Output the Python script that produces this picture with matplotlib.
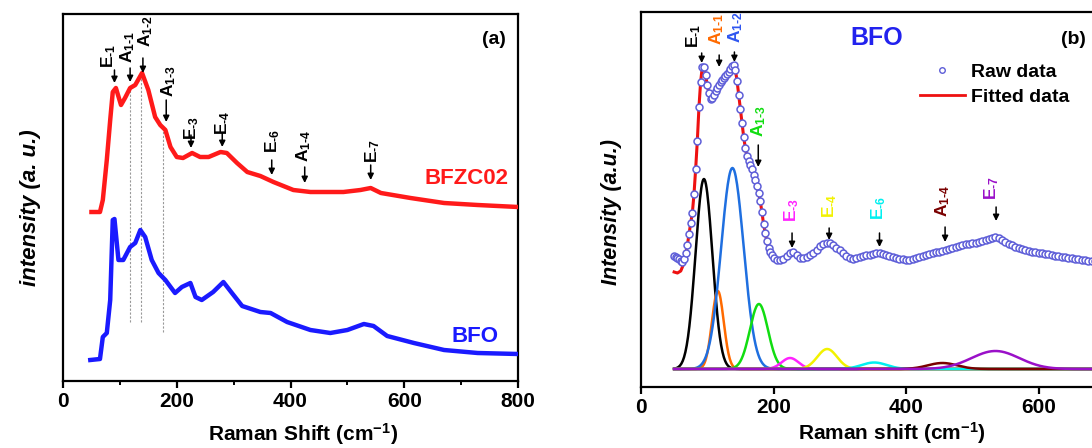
import numpy as np
import matplotlib
matplotlib.use('Agg')
import matplotlib.pyplot as plt
from matplotlib.lines import Line2D

plt.rcParams['font.family'] = ['Liberation Sans', 'DejaVu Sans']
plt.rcParams['font.weight'] = 'bold'
plt.rcParams['axes.labelweight'] = 'bold'
plt.rcParams['mathtext.fontset'] = 'custom'
plt.rcParams['mathtext.rm'] = 'Liberation Sans:bold'
plt.rcParams['mathtext.bf'] = 'Liberation Sans:bold'
plt.rcParams['mathtext.it'] = 'Liberation Sans:bold:italic'
plt.rcParams['mathtext.default'] = 'rm'

# ---- panel (a): Raman spectra (arbitrary units) ----
bfzc_x = [50, 65, 70, 77, 83, 87.5, 93, 102, 109, 118, 127, 139, 150, 162, 171, 180,
          189, 200, 211, 227, 241, 256, 277, 288, 306, 324, 347, 370, 405, 435, 493,
          523, 541, 559, 611, 670, 729, 800]
bfzc_y = [169, 169, 181, 221, 261, 289, 293, 276, 283, 293, 296, 308, 291, 264, 256, 251,
          234, 224, 223, 228, 224, 224, 229, 228, 218, 209, 205, 199, 191, 189, 189,
          191, 193, 188, 183, 178, 176, 174]

bfo_x = [48, 65, 70, 77, 83, 87.5, 90.5, 97.5, 106, 118, 127, 136, 144.5, 156, 168, 180,
         197, 209, 224, 233, 244, 264, 282, 297, 315, 347, 365, 394, 435, 470, 500, 529,
         546, 570, 617, 670, 729, 800]
bfo_y = [21, 22, 44, 48, 81, 161, 162, 121, 121, 134, 138, 151, 144, 121, 108, 101,
         88, 94, 98, 84, 81, 89, 99, 88, 75, 69, 68, 59, 51, 48, 51, 57,
         55, 45, 38, 31, 28, 27]

guide_x = [118, 137, 176]
guide_top = [293, 307, 254]
guide_bottom = [59, 59, 49]

modes = ['E$_{\\text{-}1}$', 'A$_{1\\text{-}1}$', 'A$_{1\\text{-}2}$', 'A$_{1\\text{-}3}$',
         'E$_{\\text{-}3}$', 'E$_{\\text{-}4}$', 'E$_{\\text{-}6}$', 'A$_{1\\text{-}4}$',
         'E$_{\\text{-}7}$']
a_arrow_x = [90.5, 118, 140.5, 181.5, 225, 280, 367, 425, 541]
a_arrow_tip = [298, 299, 308, 259, 233, 234, 206, 198, 201]
a_arrow_tail = [311, 313, 323, 281, 246, 248, 221, 214, 216]
a_label_x = [81, 114, 145, 185.6, 225.6, 281, 368, 423, 544]
a_label_y = [313, 318, 334, 284, 241, 246, 228, 219, 218]

# ---- panel (b): BFO raw data and fitted peaks ----
raw_x_fine = list(np.arange(50, 200, 2.5))
raw_y_fine = [113, 112, 111, 110, 108, 107, 110, 116, 124, 135, 146, 156, 175, 200, 228,
              262, 287, 302, 302, 294, 284, 276, 270, 271, 274, 278, 281, 284, 287, 289,
              291, 293, 295, 297, 300, 303, 304, 299, 288, 274, 260, 246, 232, 221, 213,
              208, 204, 200, 194, 189, 183, 176, 168, 157, 145, 136, 128, 121, 117, 114]
raw_x_coarse = list(np.arange(200, 705, 5))
raw_y_coarse = [111, 109, 109, 110, 113, 116, 117, 114, 111, 111, 112, 114, 116, 119, 123,
                125, 126, 126, 124, 121, 119, 116, 113, 111, 110, 111, 112, 113, 114, 114,
                115, 116, 116, 115, 114, 113, 112, 111, 110, 110, 109, 109, 110, 111, 112,
                113, 114, 115, 116, 117, 117, 118, 119, 120, 121, 122, 123, 124, 125, 125,
                126, 126, 127, 128, 129, 130, 131, 132, 131, 129, 127, 125, 124, 122, 121,
                120, 119, 118, 117, 117, 116, 116, 115, 115, 114, 113, 113, 112, 112, 111,
                111, 110, 110, 109, 109, 108, 108, 108, 107, 107, 107]
fit_head_x = [50, 55, 60, 65]
fit_head_y = [97, 96, 98, 106]

peak_center = [95, 116, 138, 178, 225, 281, 352, 455, 535]
peak_height = [190, 78, 201, 65, 11, 20, 6.5, 6, 18]
peak_fwhm = [30, 21, 40, 32, 30, 35, 45, 52, 85]

b_arrow_x = [91.6, 118, 141, 177, 228, 284, 360, 459, 536]
b_arrow_tip = [306, 302, 307, 202, 121, 129, 122, 127, 148]
b_arrow_tail = [316, 314, 317, 224, 136, 141, 136, 142, 162]
b_label_x = [80, 114, 143, 177, 227, 285, 358, 456, 529]
b_label_y = [321, 324, 326, 232, 147, 151, 149, 152, 169]

peak_colors = ['black', '#ff6a00', '#1f6fe0', '#11dd11', '#ff22ff', '#f2f200',
               '#00f0f0', '#7a0000', '#9a10c8']
label_colors = ['black', '#ff6a00', '#2f56f0', '#11dd11', '#ff22ff', '#f2f200',
                '#00f0f0', '#7a0000', '#9a10c8']

fig = plt.figure(figsize=(10.92, 4.48), dpi=100)
ax1 = fig.add_axes([63 / 1092, 67 / 448, 455 / 1092, 367 / 448])
ax2 = fig.add_axes([641 / 1092, 61 / 448, 530 / 1092, 375 / 448])


def mode_arrow(ax, x, tip, tail):
    ax.annotate('', xy=(x, tip), xytext=(x, tail),
                arrowprops=dict(arrowstyle='-|>', color='black', lw=1.1,
                                mutation_scale=9, shrinkA=0, shrinkB=0))


# panel (a)
for gx, gt, gb in zip(guide_x, guide_top, guide_bottom):
    ax1.plot([gx, gx], [gb, gt], color='#999999', lw=0.8, ls=(0, (2, 1.5)), zorder=1)
ax1.plot(bfzc_x, bfzc_y, color='#ff1a1a', lw=3.2, solid_joinstyle='round', zorder=3)
ax1.plot(bfo_x, bfo_y, color='#1a1aff', lw=3.2, solid_joinstyle='round', zorder=3)

for i, name in enumerate(modes):
    mode_arrow(ax1, a_arrow_x[i], a_arrow_tip[i], a_arrow_tail[i])
    ax1.text(a_label_x[i], a_label_y[i], name, rotation=90, ha='center', va='bottom',
             fontsize=12.5, color='black')

ax1.text(783, 203, 'BFZC02', color='#ff1a1a', fontsize=16, ha='right', va='center')
ax1.text(765, 45, 'BFO', color='#1a1aff', fontsize=16, ha='right', va='center')
ax1.text(779, 341, '(a)', color='black', fontsize=14, ha='right', va='center')

ax1.set_xlim(0, 800)
ax1.set_ylim(0, 367)
ax1.set_xticks([0, 200, 400, 600, 800])
ax1.set_xticks([100, 300, 500, 700], minor=True)
ax1.set_yticks([])
ax1.set_xlabel('Raman Shift (cm$^{-1}$)', fontsize=15, labelpad=7)
ax1.xaxis.label.set_x(0.527)
ax1.set_ylabel('intensity (a. u.)', fontsize=16, style='italic', labelpad=16)
ax1.yaxis.label.set_y(0.471)

# panel (b)
comp_x = np.arange(50, 801, 1.0)
for c, h, w, col in zip(peak_center, peak_height, peak_fwhm, peak_colors):
    s = w / 2.3548
    ax2.plot(comp_x, h * np.exp(-0.5 * ((comp_x - c) / s) ** 2), color=col, lw=1.8, zorder=2)

raw_x = raw_x_fine + raw_x_coarse
raw_y = raw_y_fine + raw_y_coarse
fit_x = fit_head_x + [x for x in raw_x if x >= 70]
fit_y = fit_head_y + [y for x, y in zip(raw_x, raw_y) if x >= 70]
ax2.plot(fit_x, fit_y, color='#ee1111', lw=2.2, zorder=3)
ax2.plot(raw_x, raw_y, ls='none', marker='o', ms=5, mfc='white', mec='#5e5ed8',
         mew=1.1, zorder=4)

for i, name in enumerate(modes):
    mode_arrow(ax2, b_arrow_x[i], b_arrow_tip[i], b_arrow_tail[i])
    ax2.text(b_label_x[i], b_label_y[i], name, rotation=90, ha='center', va='bottom',
             fontsize=12.5, color=label_colors[i])

ax2.text(355, 331, 'BFO', color='#2222ee', fontsize=18, ha='center', va='center')
ax2.text(653, 329, '(b)', color='black', fontsize=14, ha='center', va='center')

handles = [Line2D([], [], ls='none', marker='o', ms=4, mfc='white', mec='#5e5ed8', mew=1.0),
           Line2D([], [], color='#ee1111', lw=2)]
ax2.legend(handles, ['Raw data', 'Fitted data'], loc='upper left', frameon=False,
           bbox_to_anchor=(0.512, 0.885), fontsize=14, handlelength=2.3,
           handletextpad=0.3, borderaxespad=0, labelspacing=0.4)

ax2.set_xlim(0, 800)
ax2.set_ylim(-18, 357)
ax2.set_xticks([0, 200, 400, 600])
ax2.set_yticks([])
ax2.set_xlabel('Raman shift (cm$^{-1}$)', fontsize=15, labelpad=2)
ax2.xaxis.label.set_x(0.474)
ax2.set_ylabel('Intensity (a.u.)', fontsize=15.5, style='italic', labelpad=14)
ax2.yaxis.label.set_y(0.467)

for ax in (ax1, ax2):
    for sp in ax.spines.values():
        sp.set_linewidth(1.6)
    ax.tick_params(axis='x', which='major', direction='out', length=5, width=1.6,
                   labelsize=15, pad=3)
    ax.tick_params(axis='x', which='minor', direction='out', length=3, width=1.4)
    for lab in ax.get_xticklabels():
        lab.set_fontweight('bold')

fig.savefig('out.png', dpi=100)
